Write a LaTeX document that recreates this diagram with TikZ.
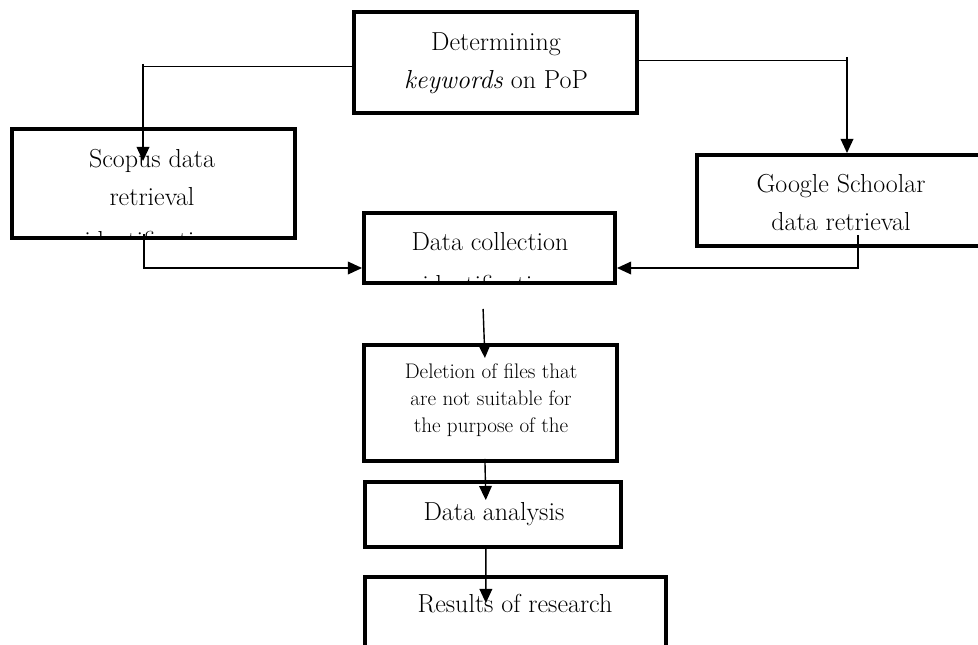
\documentclass[tikz,border=0pt]{standalone}
\usepackage{tikz}
\usetikzlibrary{arrows.meta,positioning}

\begin{document}
\begin{tikzpicture}[x=0.025cm,y=-0.025cm,
	box/.style={draw,line width=2.8pt,inner sep=0pt},
	txt/.style={align=center,inner sep=0pt,anchor=north,font=\fontsize{18.5}{27}\selectfont},
	small/.style={align=center,inner sep=0pt,anchor=north,font=\fontsize{15}{19.2}\selectfont},
	arr/.style={-{Triangle[length=10pt,width=9pt]},line width=1pt}]
	\clip (0,0) rectangle (978,644);
	% boxes
	\node[box,minimum width=7.075cm,minimum height=2.525cm] (det) at (495.5,62.5) {};
	\node[box,minimum width=7.075cm,minimum height=2.725cm] (scopus) at (153.5,183.5) {};
	\node[box,minimum width=8.25cm,minimum height=2.275cm] (google) at (862,200.5) {};
	\node[box,minimum width=6.275cm,minimum height=1.75cm] (collect) at (489.5,248) {};
	\node[box,minimum width=6.325cm,minimum height=2.9cm] (delete) at (490.5,403) {};
	\node[box,minimum width=6.4cm,minimum height=1.625cm] (analysis) at (493,514.5) {};
	\node[box,minimum width=7.525cm,minimum height=2.075cm] (results) at (515.5,618.5) {};
	% texts
	\node[txt] (tdet) at (496,32) {Determining\\\textit{keywords} on PoP};
	\node[txt] (tscopus) at (152,149) {Scopus data\\retrieval};
	\node[txt] (tcollect) at (490,232) {Data collection};
	\node[txt] (tgoogle) at (841,174) {Google Schoolar\\data retrieval};
	\node[small] (tdelete) at (491,363) {Deletion of files that\\are not suitable for\\the purpose of the};
	\node[txt] (tanalysis) at (494,502) {Data analysis};
	\node[txt] (tresults) at (515,594) {Results of research};
	% cut-off lines
	\begin{scope}
		\clip (scopus.north west) rectangle ([yshift=0.05cm]scopus.south east);
		\node[txt] (tscopus3) at (152,231) {identification};
	\end{scope}
	\begin{scope}
		\clip (collect.north west) rectangle ([yshift=0.05cm]collect.south east);
		\node[txt] (tcollect2) at (490,275) {identification};
	\end{scope}
	% connectors
	\coordinate (k1) at (143,64);
	\coordinate (k2) at (847,57);
	\draw[line width=1pt] ([yshift=-0.1cm]det.west) -- ([yshift=-0.1cm]det.west -| k1);
	\draw[arr] (k1) -- ([yshift=-0.85cm]k1 |- scopus.north);
	\draw[line width=1pt] ([yshift=0.05cm]det.east) -- ([yshift=0.05cm]det.east -| k2);
	\draw[arr] (k2) -- (k2 |- google.north);
	\draw[arr] ([shift={(-0.24cm,0.15cm)}]scopus.south) |- ([yshift=-0.5cm]collect.west);
	\draw[arr] ([shift={(-0.1cm,0.325cm)}]google.south) |- ([yshift=-0.5cm]collect.east);
	\draw[arr] ([shift={(-0.16cm,-0.6cm)}]collect.south) -- ([shift={(-0.14cm,-0.375cm)}]delete.north);
	\draw[arr] ([shift={(-0.14cm,0.1cm)}]delete.south) -- ([shift={(-0.18cm,-0.5cm)}]analysis.north);
	\draw[arr] ([xshift=-0.18cm]analysis.south) -- ([shift={(-0.74cm,-0.7cm)}]results.north);
\end{tikzpicture}
\end{document}
